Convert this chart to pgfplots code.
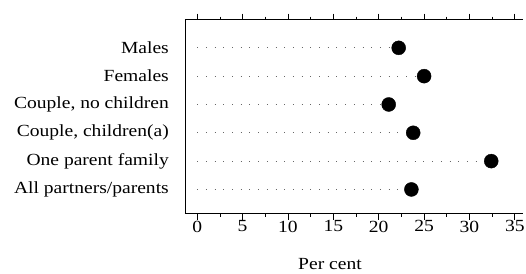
\documentclass[border=0pt]{standalone}
\usepackage{fontspec}
\setmainfont{Liberation Serif}[FakeStretch=1.15]
\usepackage{pgfplots}
\pgfplotsset{compat=1.18}
\usepackage{pgfplotstable}
\pgfplotstableread{
x y
22.2 1
25.0 2
21.1 3
23.8 4
32.4 5
23.6 6
}\datatab
\begin{document}
\begin{tikzpicture}[font=\fontsize{17bp}{19bp}\selectfont]
\begin{axis}[
  scale only axis,
  width=338bp, height=194bp,
  xmin=-1.35, xmax=35.9,
  ymin=0, ymax=6.85,
  y dir=reverse,
  axis x line=box,
  axis y line*=left,
  x axis line style={-},
  y axis line style={-},
  axis line style={line width=0.9bp},
  xtick={0,5,...,35},
  minor x tick num=1,
  xtick pos=both,
  tick align=outside,
  major tick length=6bp,
  minor tick length=3bp,
  x tick style={line width=0.8bp, black},
  ytick={1,2,3,4,5,6},
  yticklabels={Males,Females,{Couple, no children},{Couple, children(a)},One parent family,All partners/parents},
  y tick style={draw=none},
  y tick label style={inner sep=0pt, anchor=east, xshift=-10bp},
  x tick label style={inner sep=0pt, anchor=north, yshift=-1bp},
  /pgf/number format/assume math mode=true,
  xlabel={Per cent},
  x label style={at={(axis description cs:0.429,0)}, anchor=center, yshift=-50.5bp},
  clip=false,
]
\addplot[xcomb, black!60, line width=0.9bp, dash pattern=on 0.9bp off 7.8bp] table[x=x,y=y] {\datatab};
\addplot[only marks, mark=*, mark size=7bp, black] table[x=x,y=y] {\datatab};
\end{axis}
\path (current axis.south west) ++(-185bp,-60.5bp) coordinate (bbA);
\path (current axis.north east) ++(3bp,19.5bp) coordinate (bbB);
\path[use as bounding box] (bbA) rectangle (bbB);
\end{tikzpicture}
\end{document}
